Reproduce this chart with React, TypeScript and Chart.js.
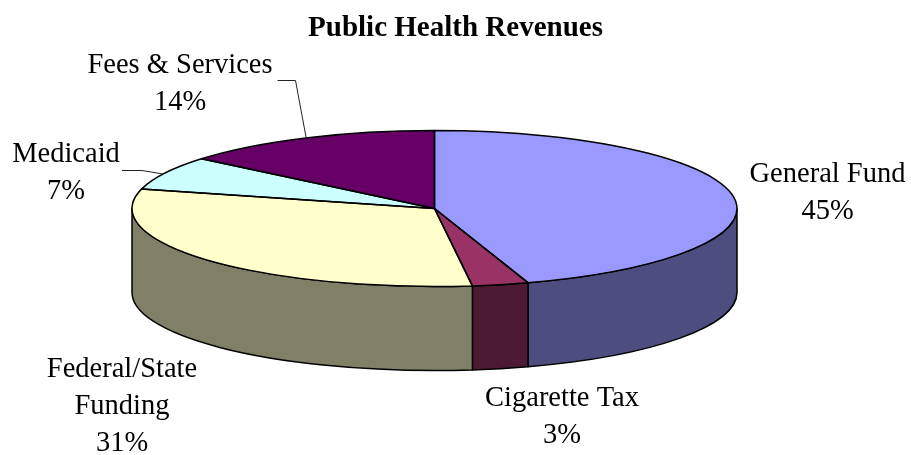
import React, { useEffect, useRef } from "react";
import { Chart, registerables } from "chart.js";

Chart.register(...registerables);

const chartTitle = "Public Health Revenues";
const categories = ["General Fund", "Cigarette Tax", "Federal/State Funding", "Medicaid", "Fees & Services"];
const labelLines = [["General Fund"], ["Cigarette Tax"], ["Federal/State", "Funding"], ["Medicaid"], ["Fees & Services"]];
const shares = [45, 3, 31, 7, 14];
const topColors = ["#9999FF", "#993366", "#FFFFCC", "#CCFFFF", "#660066"];
const sideColors = ["#4D4D80", "#4D1A33", "#808066", "#668080", "#330033"];

const FONT = '"Liberation Serif", "Times New Roman", serif';
const CX = 434.5;
const CY = 208.5;
const RX = 302.5;
const RY = 78;
const DEPTH = 84;
// centre x and first baseline of each label block
const labelAnchors = [
  [827.5, 182],
  [562, 406],
  [122, 377],
  [66, 162],
  [180, 73],
];
const LINE_H = 37;

const pie3d = {
  id: "pie3d",
  beforeDatasetsDraw(chart: any) {
    const ctx = chart.ctx as CanvasRenderingContext2D;
    const arcs = chart.getDatasetMeta(0).data;
    ctx.save();
    ctx.lineWidth = 1.5;
    ctx.strokeStyle = "#000";
    ctx.lineJoin = "round";
    arcs.forEach((arc: any, i: number) => {
      const a0 = Math.max(arc.startAngle, 0);
      const a1 = Math.min(arc.endAngle, Math.PI);
      if (a1 <= a0) return;
      ctx.beginPath();
      ctx.ellipse(CX, CY, RX, RY, 0, a0, a1, false);
      ctx.lineTo(CX + RX * Math.cos(a1), CY + RY * Math.sin(a1) + DEPTH);
      ctx.ellipse(CX, CY + DEPTH, RX, RY, 0, a1, a0, true);
      ctx.closePath();
      ctx.fillStyle = sideColors[i];
      ctx.fill();
      ctx.stroke();
    });
    ctx.restore();
    // Squash the library's own pie into the tilted top face
    const first = arcs[0];
    ctx.save();
    ctx.translate(CX, CY);
    ctx.scale(RX / first.outerRadius, RY / first.outerRadius);
    ctx.translate(-first.x, -first.y);
  },
  afterDatasetsDraw(chart: any) {
    const ctx = chart.ctx as CanvasRenderingContext2D;
    ctx.restore();
    const arcs = chart.getDatasetMeta(0).data;
    ctx.save();
    ctx.lineWidth = 1.5;
    ctx.strokeStyle = "#000";
    ctx.lineJoin = "round";
    arcs.forEach((arc: any) => {
      ctx.beginPath();
      ctx.moveTo(CX, CY);
      ctx.ellipse(CX, CY, RX, RY, 0, arc.startAngle, arc.endAngle, false);
      ctx.closePath();
      ctx.stroke();
    });

    // leader lines
    ctx.lineWidth = 1;
    ctx.strokeStyle = "#222";
    ctx.beginPath();
    ctx.moveTo(277.5, 80.5);
    ctx.lineTo(295.5, 80.5);
    ctx.lineTo(306, 137);
    ctx.stroke();
    ctx.beginPath();
    ctx.moveTo(122, 170.5);
    ctx.lineTo(142, 170.5);
    ctx.lineTo(163, 174);
    ctx.stroke();

    // labels
    ctx.fillStyle = "#000";
    ctx.font = `28.5px ${FONT}`;
    ctx.textAlign = "center";
    ctx.textBaseline = "alphabetic";
    const total = shares.reduce((s, v) => s + v, 0);
    labelLines.forEach((lines, i) => {
      const [x, y] = labelAnchors[i];
      const all = [...lines, `${Math.round((shares[i] / total) * 100)}%`];
      all.forEach((t, j) => ctx.fillText(t, x, y + j * LINE_H));
    });
    ctx.restore();
  },
};

export default function App() {
  const ref = useRef<HTMLCanvasElement>(null);
  useEffect(() => {
    const chart = new Chart(ref.current!, {
      type: "pie",
      data: {
        labels: categories,
        datasets: [
          {
            data: shares,
            backgroundColor: topColors,
            borderWidth: 0,
            clip: false,
          } as any,
        ],
      },
      options: {
        animation: false,
        responsive: false,
        devicePixelRatio: 1,
        rotation: 0,
        layout: { padding: 0 },
        plugins: {
          legend: { display: false },
          tooltip: { enabled: false },
          title: {
            display: true,
            text: chartTitle,
            color: "#000",
            font: { family: FONT, size: 29, weight: "bold" },
            padding: { top: 11, bottom: 4 },
            align: "center",
          },
        },
      },
      plugins: [pie3d],
    });
    return () => chart.destroy();
  }, []);
  return (
    <div style={{ position: "absolute", left: 0, top: 0, width: 911, height: 455, background: "#fff" }}>
      <canvas ref={ref} width={911} height={455} style={{ display: "block" }} />
    </div>
  );
}
